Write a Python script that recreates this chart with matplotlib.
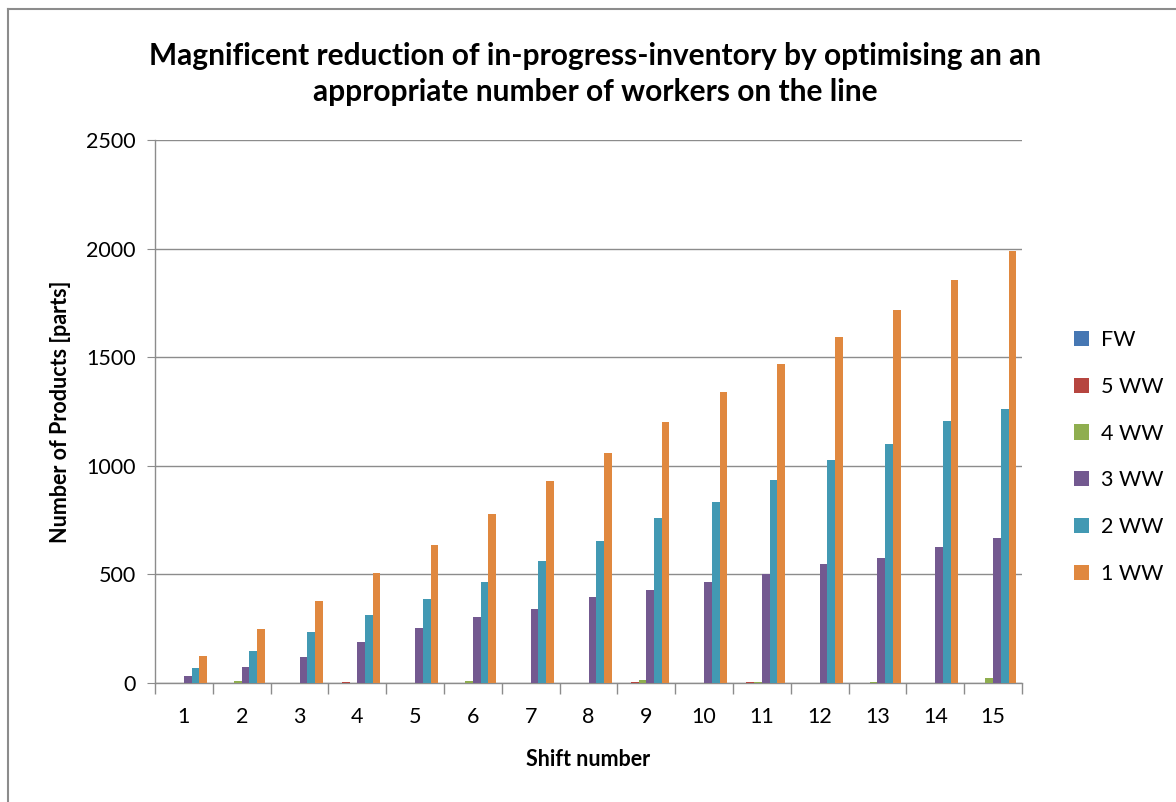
import matplotlib
matplotlib.use("Agg")
import matplotlib.pyplot as plt
import numpy as np
from matplotlib.lines import Line2D

shifts = [str(i) for i in range(1, 16)]
series_names = ["FW", "5 WW", "4 WW", "3 WW", "2 WW", "1 WW"]
fw = [1, 1, 0, 1, 0, 0, 0, 1, 1, 1, 0, 0, 0, 0, 0]
ww5 = [1, 2, 0, 3, 0, 0, 0, 1, 3, 1, 5, 0, 1, 0, 0]
ww4 = [2, 9, 0, 1, 2, 10, 0, 1, 12, 0, 6, 0, 4, 0, 22]
ww3 = [32, 72, 120, 189, 253, 302, 339, 398, 427, 466, 500, 546, 577, 628, 667]
ww2 = [68, 147, 233, 314, 388, 465, 562, 652, 760, 835, 933, 1028, 1100, 1204, 1260]
ww1 = [124, 249, 376, 506, 635, 778, 932, 1059, 1200, 1340, 1469, 1593, 1717, 1855, 1989]
data = [fw, ww5, ww4, ww3, ww2, ww1]
colors = ["#4677b3", "#b6453f", "#8fae4f", "#735990", "#4299b3", "#e0883f"]

plt.rcParams['font.family'] = ['Lato', 'DejaVu Sans']

fig = plt.figure(figsize=(11.76, 8.02), dpi=100)
ax = fig.add_axes([155/1176, 1-683/802, (1022-155)/1176, (683-140)/802])

n = len(series_names)
w = 1/(n+1.5)
x = np.arange(len(shifts))
for i, (name, vals, c) in enumerate(zip(series_names, data, colors)):
    ax.bar(x + (i-(n-1)/2)*w, vals, width=w, color=c, label=name, zorder=3)

ax.set_xlim(-0.5, len(shifts)-0.5)
ax.set_ylim(0, 2500)
ax.set_yticks(range(0, 2501, 500))
ax.yaxis.grid(True, color="#8c8c8c", linewidth=1.0, zorder=0)
ax.set_xticks(x)
ax.set_xticklabels(shifts, fontsize=15.5)
ax.set_xticks(np.arange(-0.5, len(shifts)), minor=True)
ax.tick_params(axis='x', which='major', length=0, pad=17)
ax.tick_params(axis='x', which='minor', length=8, color="#8c8c8c", width=1)
ax.tick_params(axis='y', labelsize=15.5, length=6, color="#8c8c8c", pad=8)
for s in ["top", "right"]:
    ax.spines[s].set_visible(False)
for s in ["left", "bottom"]:
    ax.spines[s].set_color("#8c8c8c")
    ax.spines[s].set_linewidth(1.0)

ax.set_xlabel("Shift number", fontsize=15.5, fontweight="bold", labelpad=16)
fig.text(61/1176, 1-412/802, "Number of Products [parts]", rotation=90,
         ha="center", va="center", fontsize=15.5, fontweight="bold")
fig.text(595/1176, 1-74/802,
         "Magnificent reduction of in-progress-inventory by optimising an an\nappropriate number of workers on the line",
         ha="center", va="center", fontsize=21.5, fontweight="bold", linespacing=1.35)

leg = ax.legend(loc="center left", bbox_to_anchor=(1055/1176, 1-457/802),
                bbox_transform=fig.transFigure, frameon=False, fontsize=15.5,
                handlelength=0.7, handleheight=0.7, labelspacing=1.25, handletextpad=0.55)

fig.add_artist(Line2D([8/1176, 8/1176], [0, 1-9/802], color="#8c8c8c", lw=1.5, transform=fig.transFigure))
fig.add_artist(Line2D([8/1176, 1], [1-9/802, 1-9/802], color="#8c8c8c", lw=1.5, transform=fig.transFigure))

fig.savefig("out.png", dpi=100)
